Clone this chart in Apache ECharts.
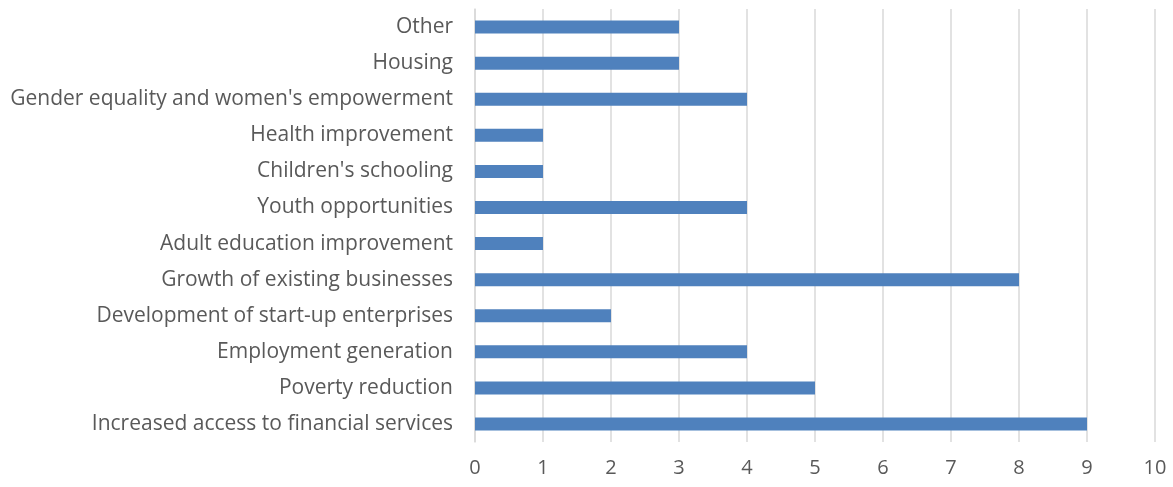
<!DOCTYPE html>
<html>
<head>
<meta charset="utf-8">
<script src="https://cdn.jsdelivr.net/npm/echarts@6/dist/echarts.min.js"></script>
<style>
  html, body { margin: 0; padding: 0; background: #ffffff; }
  #chart { width: 1173px; height: 487px; }
</style>
</head>
<body>
<div id="chart"></div>
<script>
// Categories listed bottom to top
const categories = [
  "Increased access to financial services",
  "Poverty reduction",
  "Employment generation",
  "Development of start-up enterprises",
  "Growth of existing businesses",
  "Adult education improvement",
  "Youth opportunities",
  "Children's schooling",
  "Health improvement",
  "Gender equality and women's empowerment",
  "Housing",
  "Other"
];
const counts = [9, 5, 4, 2, 8, 1, 4, 1, 1, 4, 3, 3];
const xTicks = [0, 1, 2, 3, 4, 5, 6, 7, 8, 9, 10];

const chart = echarts.init(document.getElementById('chart'));
const font = '"Open Sans", "Noto Sans", sans-serif';
chart.setOption({
  animation: false,
  grid: { left: 475, right: 18, top: 9, bottom: 45, containLabel: false },
  xAxis: {
    type: 'value',
    min: xTicks[0],
    max: xTicks[xTicks.length - 1],
    interval: 1,
    axisLine: { show: false },
    axisTick: { show: false },
    splitLine: { show: true, lineStyle: { color: '#d9d9d9', width: 1.5 } },
    axisLabel: { color: '#595959', fontSize: 20, fontFamily: font, margin: 16 }
  },
  yAxis: {
    type: 'category',
    data: categories,
    axisLine: { show: true, lineStyle: { color: '#d9d9d9', width: 1.5 } },
    axisTick: { show: false },
    axisLabel: { color: '#595959', fontSize: 21, fontFamily: font, margin: 22 }
  },
  series: [{
    type: 'bar',
    data: counts,
    barWidth: 13,
    itemStyle: { color: '#4f81bd' }
  }]
});
</script>
</body>
</html>
